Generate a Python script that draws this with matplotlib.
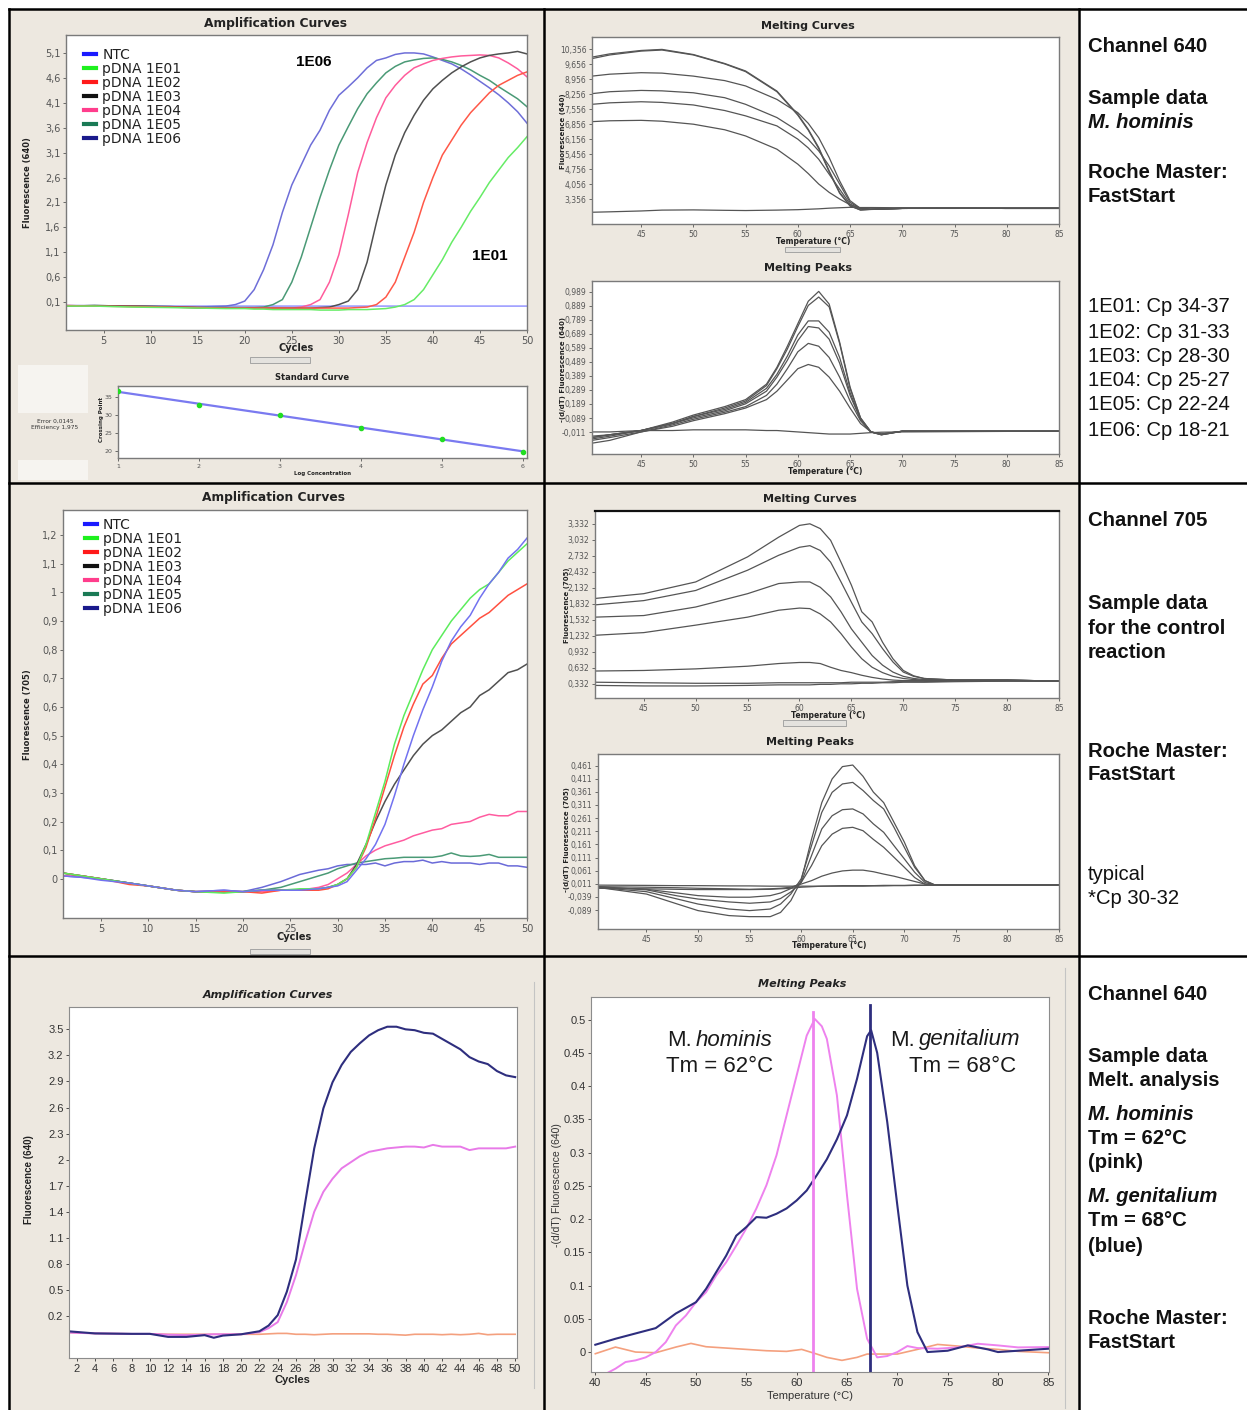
import numpy as np
import matplotlib
matplotlib.use('Agg')
import matplotlib.pyplot as plt
from matplotlib.patches import Rectangle
from matplotlib.lines import Line2D

W, H = 1247, 1410

# ---------- channel 640 amplification (row 1) ----------
cycles_a = [1, 4, 8, 12, 15, 18] + list(range(19, 51))
amp640 = {
    'pDNA 1E06': [0.03, 0.03, 0.02, 0.01, 0.0, 0.02,
                  0.05, 0.12, 0.35, 0.75, 1.25, 1.9, 2.45, 2.85, 3.25, 3.55, 3.95, 4.25, 4.42, 4.6, 4.8, 4.95,
                  5.0, 5.07, 5.1, 5.1, 5.08, 5.02, 4.95, 4.88, 4.78, 4.66, 4.53, 4.4, 4.26, 4.1, 3.92, 3.69],
    'pDNA 1E05': [0.02, 0.03, 0.02, 0.0, -0.01, -0.01,
                  -0.01, -0.01, -0.01, 0.0, 0.05, 0.15, 0.5, 1.0, 1.6, 2.2, 2.75, 3.25, 3.62, 3.98, 4.28, 4.5,
                  4.7, 4.83, 4.92, 4.96, 4.99, 5.0, 4.97, 4.92, 4.85, 4.76, 4.65, 4.55, 4.42, 4.3, 4.18, 4.02],
    'pDNA 1E04': [0.03, 0.02, 0.02, 0.0, -0.01, -0.02,
                  -0.02, -0.02, -0.02, -0.02, -0.02, -0.02, -0.02, 0.0, 0.05, 0.15, 0.5, 1.05, 1.85, 2.7, 3.3, 3.8,
                  4.2, 4.45, 4.65, 4.8, 4.88, 4.95, 4.99, 5.02, 5.04, 5.05, 5.06, 5.05, 5.0, 4.9, 4.78, 4.62],
    'pDNA 1E03': [0.02, 0.03, 0.02, 0.01, -0.01, -0.02,
                  -0.02, -0.02, -0.02, -0.02, -0.02, -0.02, -0.02, -0.02, -0.02, -0.01, 0.0, 0.05, 0.12, 0.35, 0.9, 1.7,
                  2.45, 3.05, 3.5, 3.85, 4.15, 4.38, 4.55, 4.7, 4.82, 4.92, 5.0, 5.05, 5.08, 5.1, 5.13, 5.08],
    'pDNA 1E02': [0.03, 0.02, 0.01, 0.0, -0.01, -0.02,
                  -0.02, -0.02, -0.02, -0.02, -0.02, -0.02, -0.02, -0.02, -0.02, -0.02, -0.02, -0.02, -0.02, -0.01, 0.0, 0.05,
                  0.2, 0.5, 1.0, 1.5, 2.1, 2.6, 3.05, 3.35, 3.65, 3.9, 4.1, 4.3, 4.45, 4.55, 4.65, 4.72],
    'pDNA 1E01': [0.02, 0.02, 0.0, -0.01, -0.02, -0.03,
                  -0.03, -0.03, -0.04, -0.04, -0.05, -0.05, -0.05, -0.05, -0.05, -0.06, -0.06, -0.06, -0.05, -0.05, -0.05, -0.04,
                  -0.03, 0.0, 0.05, 0.15, 0.35, 0.65, 0.95, 1.3, 1.6, 1.92, 2.2, 2.5, 2.75, 3.0, 3.2, 3.42],
}
ntc640_x = [1, 10, 20, 30, 40, 50]
ntc640_y = [0.03, 0.02, 0.02, 0.02, 0.02, 0.02]
amp640_colors = {'pDNA 1E06': '#6e6ed8', 'pDNA 1E05': '#4a9a76', 'pDNA 1E04': '#ff5c9c',
                 'pDNA 1E03': '#505050', 'pDNA 1E02': '#ff5848', 'pDNA 1E01': '#66ec66'}
amp640_yticks = [0.1, 0.6, 1.1, 1.6, 2.1, 2.6, 3.1, 3.6, 4.1, 4.6, 5.1]

legend_labels = ['NTC', 'pDNA 1E01', 'pDNA 1E02', 'pDNA 1E03', 'pDNA 1E04', 'pDNA 1E05', 'pDNA 1E06']
legend_colors = ['#1a1aff', '#1ef01e', '#ff1a1a', '#111111', '#ff3d8c', '#1a7a55', '#1a1a8c']

# standard curve
std_logc = [1, 2, 3, 4, 5, 6]
std_cp = [36.7, 32.9, 30.1, 26.5, 23.3, 19.8]

# ---------- channel 640 melting (row 1) ----------
temp_b = [40.3, 42, 45, 47, 50, 53, 55, 58, 60, 61, 62, 63, 64, 65, 66, 67, 70, 75, 80, 85]
melt640 = [
    [10.0, 10.15, 10.31, 10.36, 10.12, 9.7, 9.35, 8.41, 7.32, 6.62, 5.77, 4.68, 3.67, 3.05, 2.84, 2.87, 2.92, 2.93, 2.92, 2.92],
    [9.93, 10.1, 10.28, 10.33, 10.1, 9.68, 9.32, 8.38, 7.28, 6.58, 5.72, 4.63, 3.63, 3.03, 2.85, 2.88, 2.92, 2.92, 2.93, 2.93],
    [9.11, 9.2, 9.27, 9.25, 9.11, 8.9, 8.65, 8.02, 7.4, 6.9, 6.23, 5.3, 4.21, 3.28, 2.92, 2.88, 2.92, 2.93, 2.92, 2.92],
    [8.29, 8.38, 8.44, 8.42, 8.33, 8.1, 7.79, 7.17, 6.55, 6.15, 5.61, 4.91, 4.06, 3.2, 2.92, 2.88, 2.92, 2.93, 2.92, 2.92],
    [7.79, 7.86, 7.91, 7.88, 7.76, 7.5, 7.25, 6.78, 6.16, 5.75, 5.22, 4.52, 3.82, 3.12, 2.9, 2.88, 2.92, 2.93, 2.92, 2.92],
    [6.98, 7.02, 7.04, 7.0, 6.86, 6.6, 6.31, 5.69, 4.99, 4.55, 4.06, 3.67, 3.36, 3.09, 2.92, 2.88, 2.92, 2.93, 2.92, 2.92],
    [2.74, 2.76, 2.8, 2.84, 2.85, 2.83, 2.82, 2.84, 2.86, 2.88, 2.9, 2.93, 2.95, 2.97, 2.96, 2.96, 2.95, 2.94, 2.94, 2.94],
]
melt640_yticks = [3.356, 4.056, 4.756, 5.456, 6.156, 6.856, 7.556, 8.256, 8.956, 9.656, 10.356]

temp_bp = [40.3, 42, 45, 48, 50, 53, 55, 57, 58, 59, 60, 61, 62, 63, 64, 65, 66, 67, 68, 70, 75, 80, 85]
peaks640 = [
    [-0.04, -0.03, 0.0, 0.06, 0.11, 0.17, 0.22, 0.33, 0.45, 0.6, 0.76, 0.92, 0.99, 0.9, 0.63, 0.31, 0.09, -0.01, -0.03, -0.005, -0.005, -0.005, -0.005],
    [-0.05, -0.03, 0.0, 0.05, 0.1, 0.16, 0.21, 0.32, 0.44, 0.58, 0.74, 0.89, 0.95, 0.88, 0.62, 0.3, 0.09, -0.01, -0.03, -0.005, -0.005, -0.005, -0.005],
    [-0.06, -0.04, 0.0, 0.05, 0.1, 0.15, 0.2, 0.3, 0.4, 0.53, 0.68, 0.78, 0.78, 0.7, 0.52, 0.27, 0.08, -0.01, -0.03, -0.005, -0.005, -0.005, -0.005],
    [-0.05, -0.03, 0.0, 0.05, 0.09, 0.14, 0.19, 0.28, 0.38, 0.5, 0.64, 0.74, 0.73, 0.65, 0.48, 0.25, 0.08, -0.01, -0.025, -0.005, -0.005, -0.005, -0.005],
    [-0.07, -0.05, -0.01, 0.04, 0.08, 0.13, 0.17, 0.25, 0.33, 0.44, 0.56, 0.62, 0.6, 0.52, 0.38, 0.21, 0.07, -0.01, -0.025, -0.005, -0.005, -0.005, -0.005],
    [-0.09, -0.07, -0.01, 0.03, 0.07, 0.12, 0.16, 0.22, 0.28, 0.36, 0.44, 0.47, 0.45, 0.38, 0.28, 0.16, 0.05, -0.01, -0.025, -0.005, -0.005, -0.005, -0.005],
    [-0.01, -0.01, 0.0, 0.0, 0.005, 0.005, 0.005, 0.0, 0.0, -0.005, -0.01, -0.015, -0.02, -0.025, -0.025, -0.025, -0.02, -0.015, -0.012, -0.01, -0.008, -0.006, -0.006],
]
peaks640_yticks = [-0.011, 0.089, 0.189, 0.289, 0.389, 0.489, 0.589, 0.689, 0.789, 0.889, 0.989]

# ---------- channel 705 amplification (row 2) ----------
cycles_c = [1, 3, 5, 8, 10, 13, 15, 18, 20, 22, 24, 26, 28, 29] + list(range(30, 51))
amp705 = {
    'NTC': [0.01, 0.005, -0.005, -0.015, -0.025, -0.04, -0.045, -0.04, -0.045, -0.04, -0.04, -0.04, -0.035, -0.03,
            -0.025, -0.01, 0.03, 0.07, 0.12, 0.19, 0.29, 0.4, 0.5, 0.59, 0.67, 0.76, 0.83, 0.88, 0.92, 0.98, 1.03, 1.07, 1.12, 1.15, 1.19],
    'pDNA 1E01': [0.02, 0.01, 0.0, -0.015, -0.025, -0.04, -0.045, -0.05, -0.045, -0.04, -0.04, -0.035, -0.035, -0.03,
                  -0.02, 0.0, 0.04, 0.12, 0.23, 0.34, 0.47, 0.57, 0.65, 0.73, 0.8, 0.85, 0.9, 0.94, 0.98, 1.01, 1.03, 1.07, 1.11, 1.14, 1.17],
    'pDNA 1E02': [0.02, 0.01, 0.0, -0.02, -0.025, -0.04, -0.045, -0.045, -0.045, -0.05, -0.04, -0.04, -0.04, -0.035,
                  -0.02, 0.0, 0.04, 0.11, 0.21, 0.32, 0.43, 0.53, 0.61, 0.68, 0.71, 0.77, 0.82, 0.85, 0.88, 0.91, 0.93, 0.96, 0.99, 1.01, 1.03],
    'pDNA 1E03': [0.02, 0.01, 0.0, -0.015, -0.025, -0.04, -0.045, -0.045, -0.045, -0.04, -0.04, -0.04, -0.035, -0.03,
                  -0.02, 0.0, 0.05, 0.12, 0.2, 0.27, 0.33, 0.38, 0.43, 0.47, 0.5, 0.52, 0.55, 0.58, 0.6, 0.64, 0.66, 0.69, 0.72, 0.73, 0.75],
    'pDNA 1E04': [0.01, 0.01, 0.0, -0.015, -0.025, -0.04, -0.045, -0.045, -0.045, -0.045, -0.04, -0.04, -0.03, -0.02,
                  0.0, 0.02, 0.05, 0.08, 0.1, 0.115, 0.125, 0.135, 0.15, 0.16, 0.17, 0.175, 0.19, 0.195, 0.2, 0.215, 0.225, 0.22, 0.22, 0.235, 0.235],
    'pDNA 1E05': [0.02, 0.01, 0.0, -0.015, -0.025, -0.04, -0.045, -0.045, -0.045, -0.04, -0.03, -0.01, 0.01, 0.02,
                  0.035, 0.045, 0.055, 0.06, 0.065, 0.07, 0.072, 0.075, 0.075, 0.075, 0.075, 0.08, 0.09, 0.08, 0.078, 0.08, 0.085, 0.075, 0.075, 0.075, 0.075],
    'pDNA 1E06': [0.01, 0.005, 0.0, -0.015, -0.025, -0.04, -0.045, -0.04, -0.045, -0.03, -0.01, 0.015, 0.03, 0.035,
                  0.045, 0.05, 0.05, 0.05, 0.055, 0.045, 0.055, 0.06, 0.06, 0.065, 0.055, 0.06, 0.055, 0.055, 0.055, 0.05, 0.055, 0.055, 0.045, 0.045, 0.04],
}
amp705_colors = {'NTC': '#7272f0', 'pDNA 1E01': '#5cec5c', 'pDNA 1E02': '#ff5040', 'pDNA 1E03': '#505050',
                 'pDNA 1E04': '#ff5ca0', 'pDNA 1E05': '#4a9a76', 'pDNA 1E06': '#6a6ad8'}
amp705_yticks = [0, 0.1, 0.2, 0.3, 0.4, 0.5, 0.6, 0.7, 0.8, 0.9, 1, 1.1, 1.2]

# ---------- channel 705 melting (row 2) ----------
temp_d = [40.3, 45, 50, 55, 58, 60, 61, 62, 63, 64, 65, 66, 67, 68, 69, 70, 71, 72, 75, 80, 85]
melt705 = [
    [1.93, 2.02, 2.24, 2.71, 3.08, 3.3, 3.33, 3.24, 3.02, 2.61, 2.18, 1.68, 1.49, 1.11, 0.8, 0.58, 0.48, 0.43, 0.4, 0.4, 0.38],
    [1.81, 1.89, 2.08, 2.46, 2.74, 2.89, 2.92, 2.83, 2.61, 2.24, 1.86, 1.49, 1.27, 0.99, 0.74, 0.55, 0.47, 0.43, 0.4, 0.4, 0.38],
    [1.58, 1.61, 1.77, 2.02, 2.21, 2.24, 2.24, 2.14, 1.96, 1.68, 1.36, 1.11, 0.86, 0.68, 0.55, 0.47, 0.43, 0.41, 0.4, 0.4, 0.38],
    [1.24, 1.29, 1.43, 1.58, 1.71, 1.75, 1.74, 1.64, 1.49, 1.27, 1.02, 0.8, 0.64, 0.54, 0.47, 0.43, 0.41, 0.4, 0.4, 0.4, 0.38],
    [0.57, 0.58, 0.61, 0.66, 0.71, 0.73, 0.73, 0.71, 0.64, 0.58, 0.54, 0.49, 0.45, 0.42, 0.4, 0.39, 0.39, 0.39, 0.39, 0.39, 0.38],
    [0.36, 0.35, 0.34, 0.34, 0.35, 0.35, 0.35, 0.35, 0.35, 0.35, 0.36, 0.36, 0.36, 0.36, 0.37, 0.37, 0.37, 0.37, 0.38, 0.38, 0.38],
    [0.3, 0.29, 0.29, 0.3, 0.31, 0.31, 0.31, 0.32, 0.32, 0.33, 0.33, 0.34, 0.34, 0.35, 0.35, 0.36, 0.36, 0.36, 0.37, 0.38, 0.38],
]
melt705_yticks = [0.332, 0.632, 0.932, 1.232, 1.532, 1.832, 2.132, 2.432, 2.732, 3.032, 3.332]

temp_dp = [40.3, 45, 48, 50, 53, 55, 57, 58, 59, 60, 61, 62, 63, 64, 65, 66, 67, 68, 69, 70, 71, 72, 73, 75, 80, 85]
peaks705 = [
    [-0.003, -0.028, -0.066, -0.091, -0.11, -0.114, -0.114, -0.098, -0.053, 0.023, 0.18, 0.32, 0.41, 0.457, 0.463, 0.42, 0.36, 0.32, 0.245, 0.17, 0.08, 0.023, 0.006, 0.006, 0.006, 0.006],
    [-0.003, -0.019, -0.047, -0.066, -0.085, -0.091, -0.085, -0.066, -0.028, 0.03, 0.156, 0.283, 0.359, 0.391, 0.397, 0.366, 0.328, 0.296, 0.226, 0.15, 0.074, 0.023, 0.006, 0.006, 0.006, 0.006],
    [0.0, -0.012, -0.035, -0.047, -0.058, -0.063, -0.058, -0.045, -0.02, 0.016, 0.118, 0.22, 0.27, 0.293, 0.296, 0.277, 0.239, 0.207, 0.156, 0.106, 0.055, 0.016, 0.006, 0.006, 0.006, 0.006],
    [-0.002, -0.01, -0.024, -0.034, -0.04, -0.04, -0.034, -0.024, -0.007, 0.016, 0.08, 0.156, 0.2, 0.222, 0.226, 0.213, 0.18, 0.15, 0.112, 0.074, 0.035, 0.01, 0.006, 0.006, 0.006, 0.006],
    [0.0, -0.002, -0.004, -0.006, -0.008, -0.01, -0.008, -0.006, -0.002, 0.01, 0.023, 0.04, 0.052, 0.06, 0.063, 0.063, 0.057, 0.048, 0.04, 0.03, 0.02, 0.01, 0.006, 0.006, 0.006, 0.006],
    [0.006, 0.005, 0.004, 0.004, 0.003, 0.003, 0.002, 0.002, 0.002, 0.002, 0.002, 0.002, 0.002, 0.002, 0.002, 0.002, 0.003, 0.003, 0.004, 0.004, 0.005, 0.005, 0.006, 0.006, 0.006, 0.006],
    [-0.006, -0.008, -0.01, -0.011, -0.011, -0.011, -0.01, -0.008, -0.006, -0.002, 0.0, 0.002, 0.003, 0.004, 0.004, 0.004, 0.004, 0.005, 0.005, 0.005, 0.006, 0.006, 0.006, 0.006, 0.006, 0.006],
]
peaks705_yticks = [-0.089, -0.039, 0.011, 0.061, 0.111, 0.161, 0.211, 0.261, 0.311, 0.361, 0.411, 0.461]

# ---------- melt analysis sample (row 3) ----------
cycles_e = [1, 4, 8, 10, 12, 14, 16, 17, 18, 20, 22] + list(range(23, 51))
amp_genitalium = [0.025, 0.0, -0.005, -0.005, -0.04, -0.04, -0.02, -0.05, -0.025, -0.01, 0.025,
                  0.09, 0.21, 0.48, 0.85, 1.5, 2.13, 2.59, 2.89, 3.09, 3.24, 3.34, 3.43, 3.49, 3.53,
                  3.53, 3.5, 3.49, 3.46, 3.45, 3.39, 3.33, 3.27, 3.18, 3.13, 3.1, 3.02, 2.97, 2.95]
amp_hominis = [0.01, 0.0, -0.005, -0.005, -0.015, -0.02, -0.015, -0.01, -0.01, -0.01, 0.015,
               0.06, 0.13, 0.36, 0.67, 1.05, 1.4, 1.63, 1.78, 1.9, 1.97, 2.04, 2.09, 2.11, 2.13,
               2.14, 2.15, 2.15, 2.14, 2.17, 2.15, 2.15, 2.15, 2.11, 2.13, 2.13, 2.13, 2.13, 2.15]
amp_negative = [0.01, 0.0, -0.005, -0.005, -0.01, -0.01, -0.01, -0.01, -0.01, -0.01, -0.01,
                -0.005, 0.0, 0.0, -0.01, -0.01, -0.015, -0.01, -0.005, -0.005, -0.005, -0.005, -0.005, -0.01, -0.01,
                -0.015, -0.02, -0.01, -0.01, -0.01, -0.015, -0.01, -0.015, -0.01, 0.0, -0.015, -0.01, -0.01, -0.01]
amp_e_yticks = [0.2, 0.5, 0.8, 1.1, 1.4, 1.7, 2.0, 2.3, 2.6, 2.9, 3.2, 3.5]
amp_e_xticks = list(range(2, 51, 2))

gen_t = [40, 42, 44, 46, 48, 50, 51, 52, 53, 54, 55, 56, 57, 58, 59, 60, 61, 62, 63, 64, 65, 66, 67, 67.4, 68, 69,
         70, 71, 72, 73, 75, 77, 79, 80, 82, 85]
gen_peak = [0.011, 0.02, 0.028, 0.036, 0.058, 0.075, 0.095, 0.12, 0.145, 0.175, 0.188, 0.203, 0.202, 0.208, 0.216,
            0.228, 0.243, 0.266, 0.29, 0.32, 0.356, 0.411, 0.475, 0.484, 0.45, 0.346, 0.221, 0.1, 0.03, 0.0, 0.002,
            0.01, 0.004, 0.0, 0.002, 0.005]
hom_t = [40, 41, 42, 43, 44, 45, 46, 47, 48, 49, 50, 51, 52, 53, 54, 55, 56, 57, 58, 59, 60, 61, 61.8, 62.5, 63, 64,
         65, 66, 67, 68, 69, 70, 71, 72, 74, 76, 78, 80, 82, 85]
hom_peak = [-0.06, -0.033, -0.025, -0.015, -0.0125, -0.008, 0.0, 0.015, 0.04, 0.055, 0.075, 0.09, 0.115, 0.135, 0.16,
            0.186, 0.216, 0.251, 0.296, 0.356, 0.416, 0.476, 0.501, 0.49, 0.471, 0.386, 0.236, 0.095, 0.02, -0.008,
            -0.006, 0.0, 0.009, 0.006, 0.005, 0.007, 0.0125, 0.01, 0.007, 0.0075]
neg_t = [40, 42, 44, 46, 48, 49.5, 51, 53, 55, 57, 59, 60.5, 62, 63, 64.5, 66, 67, 70, 72, 74, 76, 78, 80, 82, 85]
neg_peak = [-0.0025, 0.0075, 0.0, -0.001, 0.0075, 0.013, 0.008, 0.006, 0.004, 0.002, 0.001, 0.004, -0.003, -0.008,
            -0.0125, -0.008, -0.003, -0.003, 0.004, 0.0115, 0.009, 0.006, 0.004, 0.001, -0.001]
tm_hominis = 61.6
tm_genitalium = 67.3
peak_f_yticks = [0, 0.05, 0.1, 0.15, 0.2, 0.25, 0.3, 0.35, 0.4, 0.45, 0.5]

# ---------- text column ----------
notes = [
    # (y pixel, text, weight, style)
    (47, 'Channel 640', 'bold', 'normal'), (99, 'Sample data', 'bold', 'normal'),
    (123, 'M. hominis', 'bold', 'italic'), (173, 'Roche Master:', 'bold', 'normal'),
    (197, 'FastStart', 'bold', 'normal'),
    (307, '1E01: Cp 34-37', 'normal', 'normal'), (332, '1E02: Cp 31-33', 'normal', 'normal'),
    (357, '1E03: Cp 28-30', 'normal', 'normal'), (381, '1E04: Cp 25-27', 'normal', 'normal'),
    (405, '1E05: Cp 22-24', 'normal', 'normal'), (430, '1E06: Cp 18-21', 'normal', 'normal'),
    (521, 'Channel 705', 'bold', 'normal'), (604, 'Sample data', 'bold', 'normal'),
    (628, 'for the control', 'bold', 'normal'), (653, 'reaction', 'bold', 'normal'),
    (751, 'Roche Master:', 'bold', 'normal'), (775, 'FastStart', 'bold', 'normal'),
    (874, 'typical', 'normal', 'normal'), (898, '*Cp 30-32', 'normal', 'normal'),
    (994, 'Channel 640', 'bold', 'normal'), (1056, 'Sample data', 'bold', 'normal'),
    (1080, 'Melt. analysis', 'bold', 'normal'), (1114, 'M. hominis', 'bold', 'italic'),
    (1138, 'Tm = 62°C', 'bold', 'normal'), (1163, '(pink)', 'bold', 'normal'),
    (1197, 'M. genitalium', 'bold', 'italic'), (1221, 'Tm = 68°C', 'bold', 'normal'),
    (1246, '(blue)', 'bold', 'normal'), (1319, 'Roche Master:', 'bold', 'normal'),
    (1343, 'FastStart', 'bold', 'normal'),
]

# ================= drawing =================
fig = plt.figure(figsize=(W / 100, H / 100), dpi=100)
fig.patch.set_facecolor('white')
SANS = ['Liberation Sans', 'DejaVu Sans']


def add_ax(x0, y0, x1, y1):
    return fig.add_axes([x0 / W, 1 - y1 / H, (x1 - x0) / W, (y1 - y0) / H])


def ftext(x, y, s, **kw):
    kw.setdefault('ha', 'center')
    kw.setdefault('va', 'center')
    return fig.text(x / W, 1 - y / H, s, **kw)


def fline(xs, ys, **kw):
    fig.add_artist(Line2D([x / W for x in xs], [1 - y / H for y in ys], transform=fig.transFigure, **kw))


def frect(x0, y0, x1, y1, **kw):
    fig.add_artist(Rectangle((x0 / W, 1 - y1 / H), (x1 - x0) / W, (y1 - y0) / H,
                             transform=fig.transFigure, **kw))


def lab(v, comma=True):
    s = '%g' % round(v, 3)
    return s.replace('.', ',') if comma else s


def lc_style(ax, xticks, yticks, comma=True):
    ax.set_xticks(xticks)
    ax.set_yticks(yticks)
    ax.set_yticklabels([lab(v, comma) for v in yticks])
    ax.tick_params(labelsize=6, colors='#555555', length=2.5, width=0.6, pad=1.5)
    for s in ax.spines.values():
        s.set_color('#7a7a7a')
        s.set_linewidth(1.0)


# cell backgrounds
frect(9, 9, 1078, 1410, fc='#ede8e0', ec='none', zorder=-5)

# ---- panel A: amplification 640 ----
axA = add_ax(66, 35, 527, 330)
axA.plot(ntc640_x, ntc640_y, color='#8a8aff', lw=1.0)
for name, vals in amp640.items():
    axA.plot(cycles_a, vals, color=amp640_colors[name], lw=1.1)
axA.set_xlim(1, 50)
axA.set_ylim(-0.46, 5.46)
lc_style(axA, [5, 10, 15, 20, 25, 30, 35, 40, 45, 50], amp640_yticks)
axA.tick_params(labelsize=7)
hand = [Line2D([], [], color=c, lw=3) for c in legend_colors]
axA.legend(hand, legend_labels, loc='upper left', bbox_to_anchor=(0.04, 0.955), frameon=False,
           fontsize=10, handlelength=0.85, handletextpad=0.45, labelspacing=0.0, borderaxespad=0,
           borderpad=0, labelcolor='#222222')
axA.text(27.3, 4.92, '1E06', fontsize=11, fontweight='bold', family=SANS, ha='center', va='center')
axA.text(46.0, 1.02, '1E01', fontsize=11, fontweight='bold', family=SANS, ha='center', va='center')
ftext(275, 23, 'Amplification Curves', fontsize=8.8, fontweight='bold', color='#222222')
ftext(28, 183, 'Fluorescence (640)', fontsize=6, fontweight='bold', rotation=90, color='#222222')
ftext(296, 348, 'Cycles', fontsize=7, fontweight='bold', color='#222222')
frect(250, 357, 310, 363, fc='#e4e2de', ec='#9a9a9a', lw=0.6)

# standard curve
axS = add_ax(118, 386, 527, 458)
fit = np.polyfit(std_logc, std_cp, 1)
axS.plot([1, 6], np.polyval(fit, [1, 6]), color='#7a7af0', lw=1.6)
axS.scatter(std_logc, std_cp, s=9, color='#22dd22', zorder=3)
axS.set_xlim(1, 6.05)
axS.set_ylim(18, 38.2)
lc_style(axS, [1, 2, 3, 4, 5, 6], [20, 25, 30, 35])
axS.tick_params(labelsize=4.5)
ftext(312, 377, 'Standard Curve', fontsize=6, fontweight='bold', color='#222222')
ftext(101, 420, 'Crossing Point', fontsize=4, fontweight='bold', rotation=90, color='#222222')
ftext(322, 474, 'Log Concentration', fontsize=4, fontweight='bold', color='#222222')
frect(18, 365, 88, 413, fc='#f6f4f0', ec='none')
frect(18, 460, 88, 480, fc='#f6f4f0', ec='none')
ftext(55, 421, 'Error 0,0145', fontsize=4.2, color='#333333')
ftext(55, 428, 'Efficiency 1,975', fontsize=4.2, color='#333333')

# ---- panel B: melting 640 ----
temp_xt = [45, 50, 55, 60, 65, 70, 75, 80, 85]
axB = add_ax(592, 37, 1059, 224)
for vals in melt640:
    axB.plot(temp_b, vals, color='#555555', lw=0.9)
axB.set_xlim(40.3, 85)
axB.set_ylim(2.19, 10.94)
lc_style(axB, temp_xt, melt640_yticks)
axB.tick_params(labelsize=5.5)
ftext(808, 26, 'Melting Curves', fontsize=8, fontweight='bold', color='#222222')
ftext(563, 131, 'Fluorescence (640)', fontsize=5, fontweight='bold', rotation=90, color='#222222')
ftext(813, 241, 'Temperature (°C)', fontsize=5.5, fontweight='bold', color='#222222')
frect(785, 247, 840, 252, fc='#e4e2de', ec='#9a9a9a', lw=0.6)

axBp = add_ax(592, 281, 1059, 454)
for vals in peaks640:
    axBp.plot(temp_bp, vals, color='#555555', lw=0.9)
axBp.set_xlim(40.3, 85)
axBp.set_ylim(-0.167, 1.064)
lc_style(axBp, temp_xt, peaks640_yticks)
axBp.tick_params(labelsize=5.5)
ftext(808, 268, 'Melting Peaks', fontsize=8, fontweight='bold', color='#222222')
ftext(563, 369, '-(d/dT) Fluorescence (640)', fontsize=5, fontweight='bold', rotation=90, color='#222222')
ftext(825, 472, 'Temperature (°C)', fontsize=5.5, fontweight='bold', color='#222222')

# ---- panel C: amplification 705 ----
axC = add_ax(63, 510, 527, 918)
for name in ['pDNA 1E06', 'pDNA 1E05', 'pDNA 1E04', 'pDNA 1E03', 'pDNA 1E02', 'pDNA 1E01', 'NTC']:
    axC.plot(cycles_c, amp705[name], color=amp705_colors[name], lw=1.1)
axC.set_xlim(1, 50)
axC.set_ylim(-0.137, 1.288)
lc_style(axC, [5, 10, 15, 20, 25, 30, 35, 40, 45, 50], amp705_yticks)
axC.tick_params(labelsize=7)
axC.legend(hand, legend_labels, loc='upper left', bbox_to_anchor=(0.047, 0.98), frameon=False,
           fontsize=10, handlelength=0.85, handletextpad=0.45, labelspacing=0.0, borderaxespad=0,
           borderpad=0, labelcolor='#222222')
ftext(274, 498, 'Amplification Curves', fontsize=8.8, fontweight='bold', color='#222222')
ftext(28, 715, 'Fluorescence (705)', fontsize=6, fontweight='bold', rotation=90, color='#222222')
ftext(294, 937, 'Cycles', fontsize=7, fontweight='bold', color='#222222')
frect(250, 949, 310, 954, fc='#e4e2de', ec='#9a9a9a', lw=0.6)

# ---- panel D: melting 705 ----
axD = add_ax(595, 511, 1059, 698)
for vals in melt705:
    axD.plot(temp_d, vals, color='#555555', lw=0.9)
axD.set_xlim(40.3, 85)
axD.set_ylim(0.064, 3.57)
lc_style(axD, temp_xt, melt705_yticks)
axD.tick_params(labelsize=5.5)
axD.spines['top'].set_color('#111111')
axD.spines['top'].set_linewidth(1.6)
ftext(810, 499, 'Melting Curves', fontsize=8, fontweight='bold', color='#222222')
ftext(567, 605, 'Fluorescence (705)', fontsize=5, fontweight='bold', rotation=90, color='#222222')
ftext(828, 715, 'Temperature (°C)', fontsize=5.5, fontweight='bold', color='#222222')
frect(783, 720, 846, 726, fc='#e4e2de', ec='#9a9a9a', lw=0.6)

axDp = add_ax(598, 754, 1059, 929)
for vals in peaks705:
    axDp.plot(temp_dp, vals, color='#555555', lw=0.9)
axDp.set_xlim(40.3, 85)
axDp.set_ylim(-0.161, 0.505)
lc_style(axDp, temp_xt, peaks705_yticks)
axDp.tick_params(labelsize=5.5)
ftext(810, 742, 'Melting Peaks', fontsize=8, fontweight='bold', color='#222222')
ftext(567, 840, '-(d/dT) Fluorescence (705)', fontsize=5, fontweight='bold', rotation=90, color='#222222')
ftext(829, 946, 'Temperature (°C)', fontsize=5.5, fontweight='bold', color='#222222')

# ---- panel E: amplification, melt analysis sample ----
axE = add_ax(69, 1007, 517, 1358)
axE.plot(cycles_e, amp_negative, color='#f4a07e', lw=1.2)
axE.plot(cycles_e, amp_hominis, color='#e87ae8', lw=1.4)
axE.plot(cycles_e, amp_genitalium, color='#2e2e7e', lw=1.5)
axE.set_xlim(1.15, 50.2)
axE.set_ylim(-0.283, 3.757)
axE.set_xticks(amp_e_xticks)
axE.set_yticks(amp_e_yticks)
axE.set_yticklabels([lab(v, False) for v in amp_e_yticks])
axE.tick_params(labelsize=8, colors='#333333', length=2, width=0.6, pad=2)
for t in axE.get_xticklabels() + axE.get_yticklabels():
    t.set_family(SANS)
for s in axE.spines.values():
    s.set_color('#8c8c8c')
ftext(268, 995, 'Amplification Curves', fontsize=8, fontweight='bold', style='italic', color='#222222')
ftext(29, 1180, 'Fluorescence (640)', fontsize=7, fontweight='bold', rotation=90, color='#222222', family=SANS)
ftext(292, 1380, 'Cycles', fontsize=8, fontweight='bold', color='#222222', family=SANS)
fline([534, 534], [982, 1388], color='#c4c4c4', lw=0.8)

# ---- panel F: melting peaks, melt analysis sample ----
axF = add_ax(591, 997, 1049, 1372)
axF.plot(neg_t, neg_peak, color='#f4a07e', lw=1.2)
axF.plot(hom_t, hom_peak, color='#ee82ee', lw=1.4)
axF.plot(gen_t, gen_peak, color='#2e2e7e', lw=1.5)
axF.axvline(tm_hominis, ymin=0.0, ymax=0.96, color='#ee82ee', lw=2)
axF.axvline(tm_genitalium, ymin=0.0, ymax=0.98, color='#2e2e7e', lw=2)
axF.set_xlim(39.57, 85.07)
axF.set_ylim(-0.03, 0.534)
axF.set_xticks([40, 45, 50, 55, 60, 65, 70, 75, 80, 85])
axF.set_yticks(peak_f_yticks)
axF.set_yticklabels([lab(v, False) for v in peak_f_yticks])
axF.tick_params(labelsize=8, colors='#333333', length=2, width=0.6, pad=2)
for t in axF.get_xticklabels() + axF.get_yticklabels():
    t.set_family(SANS)
for s in axF.spines.values():
    s.set_color('#8c8c8c')
ftext(802, 984, 'Melting Peaks', fontsize=8, fontweight='bold', style='italic', color='#222222')
ftext(557, 1185, '-(d/dT) Fluorescence (640)', fontsize=7.5, rotation=90, color='#333333', family=SANS)
ftext(810, 1396, 'Temperature (°C)', fontsize=8, color='#333333', family=SANS)
fline([1065, 1065], [968, 1408], color='#c4c4c4', lw=0.8)
big = dict(fontsize=16, family=SANS, color='#1a1a1a', va='center')
ftext(692, 1040, 'M.', ha='right', **big)
ftext(696, 1040, 'hominis', ha='left', style='italic', **big)
ftext(720, 1067, 'Tm = 62°C', ha='center', **big)
ftext(915, 1040, 'M.', ha='right', **big)
ftext(919, 1040, 'genitalium', ha='left', style='italic', **big)
ftext(963, 1067, 'Tm = 68°C', ha='center', **big)

# ---- text column ----
for y, s, wt, st in notes:
    ftext(1088, y, s, ha='left', fontsize=14.6, fontweight=wt, style=st, family=SANS, color='#111111')

# ---- table borders ----
bk = dict(color='black', lw=1.8, solid_capstyle='projecting')
fline([9, 1247], [9, 9], **bk)
fline([9, 9], [9, 1410], **bk)
fline([543.5, 543.5], [9, 1410], **bk)
fline([1078.5, 1078.5], [9, 1410], **bk)
fline([9, 1247], [482.5, 482.5], **bk)
fline([9, 1247], [955.5, 955.5], **bk)

fig.savefig('out.png', dpi=100)
